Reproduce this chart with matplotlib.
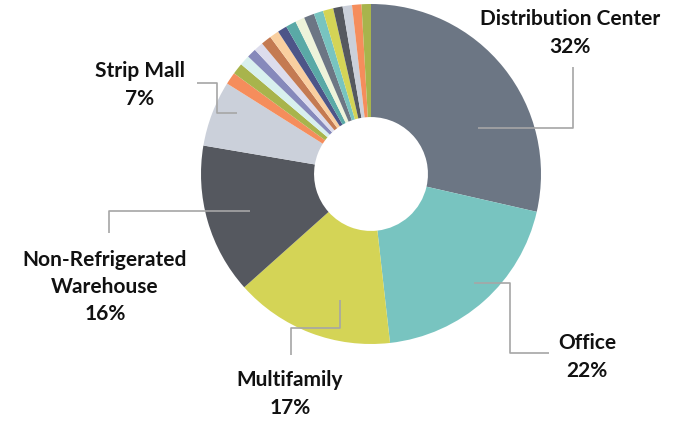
import matplotlib
matplotlib.use('Agg')
import matplotlib.pyplot as plt

# labelled segments, clockwise from 12 o'clock
main_names = ['Distribution Center', 'Office', 'Multifamily',
              'Non-Refrigerated\nWarehouse', 'Strip Mall']
main_pct = [32, 22, 17, 16, 7]
# 17 small unlabelled segments that follow Strip Mall, up to the top
small_pct = [1.3, 1.2, 1.1, 1.0, 1.0, 1.1, 1.0, 1.0, 1.1, 1.0,
             1.1, 1.0, 1.1, 1.0, 1.0, 1.0, 1.0]

palette = ['#6c7684', '#78c4c0', '#d4d456', '#55585f', '#cbd0da',
           '#f58d5c', '#a8b44c', '#d8f0ee', '#8689bb', '#dcdcec',
           '#c47a52', '#f9cfa0', '#4d5588', '#5aa9a6', '#eef3da']

values = main_pct + small_pct
colors = [palette[i % len(palette)] for i in range(len(values))]

W, H = 684, 422
fig = plt.figure(figsize=(W / 100, H / 100), dpi=100)
ax = fig.add_axes([0, 0, 1, 1])

cx, cy, R = 371, H - 174, 170
ax.pie(values, colors=colors, startangle=90, counterclock=False,
       center=(cx, cy), radius=R, frame=True,
       wedgeprops=dict(width=R * 0.665, linewidth=0))
ax.set_xlim(0, W); ax.set_ylim(0, H)
ax.set_aspect('equal'); ax.axis('off')

line_kw = dict(color='#a6a6a6', lw=1.2, solid_capstyle='butt')
txt_kw = dict(ha='center', va='center', fontsize=15, fontweight='bold',
              color='#111111', family=['Lato', 'DejaVu Sans'],
              linespacing=1.45)

def Y(y):
    return H - y

# leader lines (pixel positions)
leaders = [
    [(478, 128), (573, 128), (573, 67)],               # Distribution Center
    [(474, 283), (510, 283), (510, 353), (549, 353)],  # Office
    [(340, 300), (340, 328), (291, 328), (291, 355)],  # Multifamily
    [(250, 211), (109, 211), (109, 233)],              # Non-Refrigerated
    [(197, 83), (217, 83), (217, 113), (237, 113)],    # Strip Mall
]
for pts in leaders:
    ax.plot([p[0] for p in pts], [Y(p[1]) for p in pts], **line_kw)

label_pos = [(570, 33), (587, 357), (290, 394), (105, 287), (140, 85)]
for name, pct, (x, y) in zip(main_names, main_pct, label_pos):
    ax.text(x, Y(y), f'{name}\n{pct}%', **txt_kw)

fig.savefig('out.png', dpi=100)
print('ok')
